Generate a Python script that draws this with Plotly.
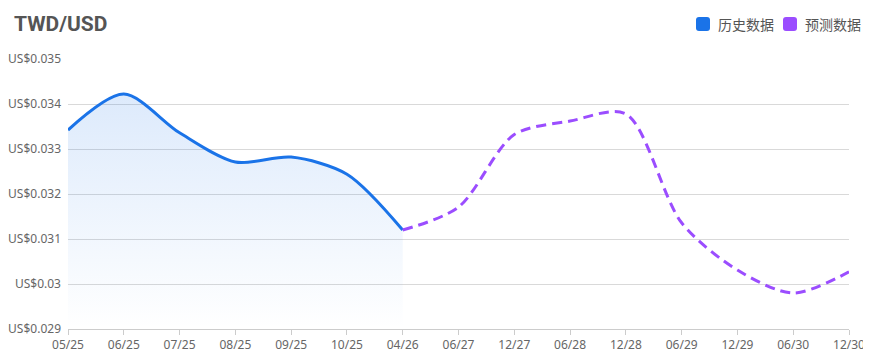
import plotly.graph_objects as go

categories = ["05/25", "06/25", "07/25", "08/25", "09/25", "10/25", "04/26",
              "06/27", "12/27", "06/28", "12/28", "06/29", "12/29", "06/30", "12/30"]
hist_labels = categories[:7]
hist_values = [0.03342, 0.03422, 0.03336, 0.03271, 0.03282, 0.03244, 0.03120]
fc_labels = categories[6:]
fc_values = [0.03120, 0.03171, 0.03332, 0.03362, 0.03378, 0.03136, 0.03031, 0.02980, 0.03027]
y_ticks = [0.029, 0.030, 0.031, 0.032, 0.033, 0.034, 0.035]
y_tick_text = ["US$0.029", "US$0.03", "US$0.031", "US$0.032", "US$0.033", "US$0.034", "US$0.035"]
y_min, y_max = 0.029, 0.035
legend_names = ["历史数据", "预测数据"]

BLUE = "#1a73e8"
PURPLE = "#9b4dff"
FONT = "Noto Sans, Noto Sans CJK SC, sans-serif"

# figure geometry (page body has an 8px offset)
W, H = 863, 355
ML, MR, MT, MB = 60, 22, 51, 34
PW, PH = W - ML - MR, H - MT - MB


def px_to_paper(px, py):
    return (px - ML) / PW, (H - MB - py) / PH


def rounded_square(x0, y0, size, r):
    x1, y1 = x0 + size, y0 + size
    def P(x, y):
        a, b = px_to_paper(x, y)
        return f"{a:.5f},{b:.5f}"
    return (f"M {P(x0 + r, y0)} L {P(x1 - r, y0)} Q {P(x1, y0)} {P(x1, y0 + r)} "
            f"L {P(x1, y1 - r)} Q {P(x1, y1)} {P(x1 - r, y1)} L {P(x0 + r, y1)} "
            f"Q {P(x0, y1)} {P(x0, y1 - r)} L {P(x0, y0 + r)} Q {P(x0, y0)} {P(x0 + r, y0)} Z")


fig = go.Figure()
fig.add_trace(go.Scatter(x=hist_labels, y=[y_min] * len(hist_labels), mode="lines",
                         line=dict(width=0, color="rgba(0,0,0,0)"), showlegend=False,
                         hoverinfo="skip"))
fig.add_trace(go.Scatter(
    x=hist_labels, y=hist_values, mode="lines", fill="tonexty", name=legend_names[0],
    line=dict(color=BLUE, width=3, shape="spline", smoothing=0.85),
    fillgradient=dict(type="vertical",
                      colorscale=[[0, "rgba(26,115,232,0.0)"], [1, "rgba(26,115,232,0.15)"]]),
    showlegend=False))
fig.add_trace(go.Scatter(
    x=fc_labels, y=fc_values, mode="lines", name=legend_names[1],
    line=dict(color=PURPLE, width=3, dash="10px,6px", shape="spline", smoothing=0.85),
    showlegend=False))

# custom legend (rounded squares + labels)
shapes = []
annotations = []
for (sx, tx), color, name in zip([(688, 708), (775, 795)], [BLUE, PURPLE], legend_names):
    shapes.append(dict(type="path", xref="paper", yref="paper", path=rounded_square(sx, 9, 14, 3),
                       fillcolor=color, line=dict(width=0)))
    ax, ay = px_to_paper(tx, 16)
    annotations.append(dict(x=ax, y=ay, xref="paper", yref="paper", text=name, showarrow=False,
                            xanchor="left", yanchor="middle",
                            font=dict(size=14, color="#555", family="Noto Sans CJK SC, sans-serif")))

fig.update_layout(
    width=W, height=H,
    margin=dict(l=ML, r=MR, t=MT, b=MB, autoexpand=False),
    paper_bgcolor="white", plot_bgcolor="white",
    font=dict(family=FONT, color="#666", size=12),
    title=dict(text="<b>TWD/USD</b>", x=0, xref="container", xanchor="left",
               y=1, yref="container", yanchor="top", pad=dict(t=8, l=6),
               font=dict(family="Roboto, sans-serif", size=21, color="#555")),
    showlegend=False,
    shapes=shapes, annotations=annotations,
    xaxis=dict(type="category", categoryorder="array", categoryarray=categories,
               range=[0, len(categories) - 1], showgrid=False, automargin=False,
               showline=True, linecolor="#ccc", linewidth=1,
               ticks="outside", ticklen=5, tickcolor="#ccc",
               tickfont=dict(size=12, color="#666"), fixedrange=True),
    yaxis=dict(range=[y_min, y_max], tickvals=y_ticks, ticktext=y_tick_text,
               showgrid=True, gridcolor="#d9d9d9", gridwidth=1, zeroline=False,
               showline=False, ticks="", ticklabelstandoff=6, automargin=False,
               tickfont=dict(size=12, color="#666"), fixedrange=True),
)

fig.write_html("out.html")
